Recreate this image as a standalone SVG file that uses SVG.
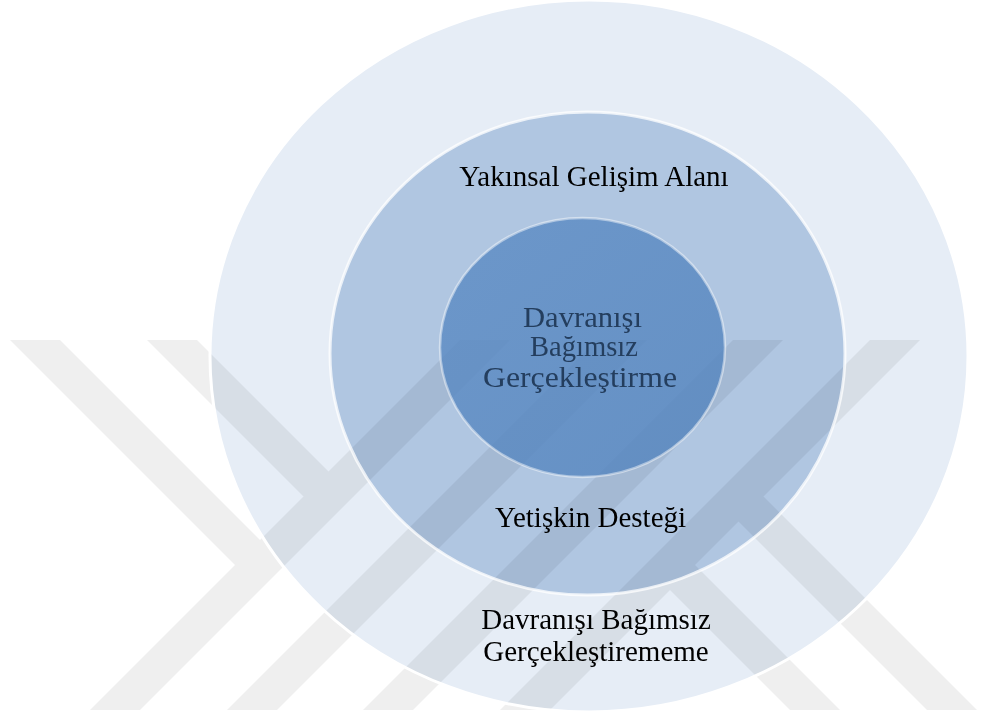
<svg xmlns="http://www.w3.org/2000/svg" width="985" height="720" viewBox="0 0 985 720">
<style>
.wm{fill:#efefef}
.mul{mix-blend-mode:multiply;stroke:none}
.ring{fill:none;stroke:#ffffff}
.lbl{font-family:"Liberation Serif","Times New Roman",serif;font-size:29px;fill:#000;text-anchor:middle}
.core{font-family:"Liberation Serif","Times New Roman",serif;font-size:29px;fill:#243e5e;text-anchor:middle}
</style>
<defs>
<linearGradient id="innerGrad" x1="0" y1="0" x2="1" y2="1">
<stop offset="0" stop-color="#5b8bc4"/>
<stop offset="1" stop-color="#5283bd"/>
</linearGradient>
</defs>
<rect x="0" y="0" width="985" height="720" fill="#ffffff"/>
<g id="watermark">
<polygon class="wm" points="10,340 60,340 285,565 235,565"/>
<polygon class="wm" points="147,340 197,340 353.5,496.5 303.5,496.5"/>
<polygon class="wm" points="460,340 510,340 140,710 90,710"/>
<polygon class="wm" points="597,340 647,340 277,710 227,710"/>
<polygon class="wm" points="733,340 783,340 413,710 363,710"/>
<polygon class="wm" points="870,340 920,340 550,710 500,710"/>
<polygon class="wm" points="645,565 695,565 840,710 790,710"/>
<polygon class="wm" points="713.5,496.5 763.5,496.5 977,710 927,710"/>
</g>
<g id="outer">
<ellipse class="mul" cx="589" cy="356" rx="379" ry="356" fill="#e6edf6"/>
<ellipse class="ring" cx="589" cy="356" rx="379" ry="356" stroke-width="3"/>
<text class="lbl" x="596" y="629">Davranışı Bağımsız</text>
<text class="lbl" x="596" y="661">Gerçekleştirememe</text>
</g>
<g id="middle">
<ellipse class="mul" cx="587.5" cy="353.5" rx="257.5" ry="241.5" fill="#c3d5ea"/>
<ellipse class="ring" cx="587.5" cy="353.5" rx="257.5" ry="241.5" stroke-width="3" stroke-opacity="0.75"/>
<text class="lbl" x="594" y="186">Yakınsal Gelişim Alanı</text>
<text class="lbl" x="590.5" y="527">Yetişkin Desteği</text>
</g>
<g id="inner">
<ellipse cx="582.5" cy="347.5" rx="142.5" ry="129.5" fill="url(#innerGrad)" fill-opacity="0.8"/>
<ellipse class="ring" cx="582.5" cy="347.5" rx="142.5" ry="129.5" stroke-width="2.5" stroke-opacity="0.45"/>
<text class="core" x="582.5" y="327" textLength="119" lengthAdjust="spacingAndGlyphs">Davranışı</text>
<text class="core" x="584" y="356" textLength="108" lengthAdjust="spacingAndGlyphs">Bağımsız</text>
<text class="core" x="580" y="387" textLength="194" lengthAdjust="spacingAndGlyphs">Gerçekleştirme</text>
</g>
</svg>
